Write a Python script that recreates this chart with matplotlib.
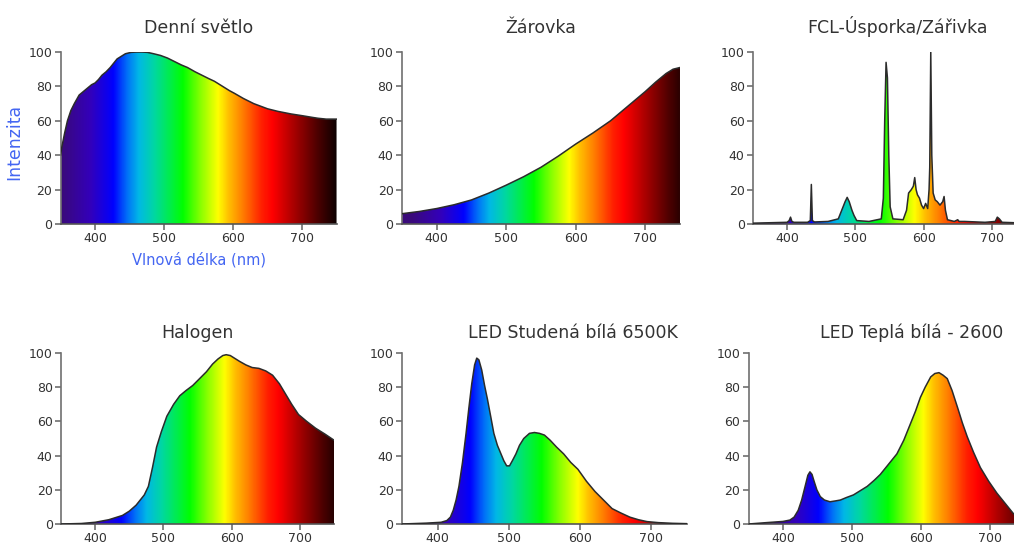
"""Spectra of common light sources, drawn as rainbow-filled curves."""
import numpy as np
import matplotlib
matplotlib.use("Agg")
import matplotlib.pyplot as plt
from matplotlib.colors import LinearSegmentedColormap
from matplotlib.patches import Polygon

plt.rcParams.update({
    "font.family": ["DejaVu Sans"],
    "font.size": 9,
    "axes.titlesize": 12.5,
    "axes.edgecolor": "#707070",
    "axes.linewidth": 1.2,
    "xtick.color": "#707070",
    "ytick.color": "#707070",
    "xtick.labelcolor": "#333333",
    "ytick.labelcolor": "#333333",
})

# --- data (wavelength nm, relative intensity) ---
wl_day = [350, 352, 356, 360, 365, 370, 377, 383, 389, 395, 400, 405, 410, 416,
          422, 428, 432, 438, 444, 452, 460, 468, 476, 485, 495, 505, 515, 525,
          534, 545, 555, 565, 573, 585, 595, 602, 615, 630, 650, 665, 684, 700,
          715, 723, 735, 750]
int_day = [40, 45, 53, 60, 66, 70, 75, 77, 79, 81, 82, 84, 86.5, 88.5,
           91, 94, 96, 97.5, 99, 99.8, 100, 100, 99.8, 99, 98, 96.5, 94.5, 92.5,
           91, 88.5, 86.5, 84.5, 83, 80, 77.5, 76, 73, 70, 67, 65.5, 64, 63,
           62, 61.5, 61, 61]

wl_inc = [350, 375, 400, 425, 450, 475, 500, 525, 550, 575, 600, 625, 650, 675,
          700, 715, 730, 740, 750]
int_inc = [6, 7.3, 9, 11.2, 14, 18, 22.6, 27.5, 33, 39.5, 46.5, 53, 60, 68.5,
           77, 82.5, 87.5, 90, 91]

wl_fcl = [350, 380, 400, 403, 405, 407, 410, 430, 434, 435.5, 437, 440, 460,
          475, 480, 485, 488, 491, 495, 498, 502, 520, 538, 541, 543, 545, 547,
          549, 551, 555, 570, 575, 578, 582, 585, 587, 589, 591, 594, 597, 600,
          603, 606, 608, 609, 610.5, 612, 614, 617, 620, 624, 628, 630, 632,
          635, 645, 650, 652, 660, 690, 705, 708, 711, 715, 730, 750]
int_fcl = [0.5, 0.8, 1, 2, 4, 1.5, 1, 1, 2, 23, 2, 1.2, 1.5,
           3, 8, 13, 15.5, 13, 8, 5, 2, 1.5, 3, 15, 60, 94, 85,
           40, 10, 3, 2.5, 8, 18, 20, 22, 27, 20, 17, 15, 11, 9,
           12, 9, 20, 33, 100, 40, 18, 14, 13, 11, 13, 16, 8,
           2.5, 1.5, 2.5, 1.5, 1.5, 1, 1.5, 4, 3, 1, 0.8, 0.5]

wl_hal = [350, 380, 400, 420, 440, 450, 460, 466, 472, 478, 484, 490, 497, 505,
          515, 524, 533, 543, 553, 563, 572, 580, 587, 592, 598, 604, 612, 621,
          630, 640, 650, 660, 670, 679, 688, 698, 710, 723, 737, 750]
int_hal = [0, 0.3, 1, 2.5, 5, 7.5, 11, 14, 17, 22, 33, 45, 54, 63,
           70, 75, 78, 81, 85, 89, 93.5, 96.5, 98.5, 99, 98.5, 97, 95, 93,
           91.5, 91, 89.5, 87, 82, 76, 70, 64, 60, 56, 52.5, 49]

wl_cold = [350, 384, 405, 413, 418, 422, 426, 430, 435, 440, 444, 448, 452, 455,
           458, 462, 466, 470, 475, 479, 484, 489, 493, 497, 501, 505, 510, 515,
           521, 529, 536, 543, 550, 558, 567, 577, 587, 597, 609, 621, 633, 645,
           657, 670, 682, 694, 710, 730, 750]
int_cold = [0, 0.5, 1, 2, 4, 8, 14, 22, 36, 53, 68, 82, 93, 97,
            96, 90, 81, 73, 62, 53, 46, 41, 37, 34, 34, 37, 41, 46,
            50, 53, 53.5, 53, 52, 49, 45, 41, 36, 32, 25, 19, 14, 9,
            6.5, 4, 2.5, 1.4, 0.8, 0.4, 0.2]

wl_warm = [350, 376, 400, 410, 416, 422, 427, 432, 436, 439, 442, 445, 449, 454,
           460, 468, 476, 483, 492, 502, 512, 522, 532, 541, 553, 565, 575, 585,
           592, 599, 606, 614, 620, 626, 632, 638, 645, 653, 660, 667, 676, 686,
           698, 710, 722, 734, 742, 750]
int_warm = [0, 0.8, 1.5, 2.3, 4, 8, 14, 22, 28.5, 30.5, 29, 25, 20, 16,
            14, 13, 13.5, 14, 15.5, 17, 19.5, 22, 25.5, 29, 35, 41, 49, 59,
            66, 74, 80, 86, 88, 88.5, 87, 85, 78, 68, 59, 51, 42, 33,
            25, 18, 12, 6, 3, 1]

titles = ["Denní světlo", "Žárovka", "FCL-Úsporka/Zářivka",
          "Halogen", "LED Studená bílá 6500K", "LED Teplá bílá - 2600"]
x_ticks = [400, 500, 600, 700]
y_ticks = [0, 20, 40, 60, 80, 100]

# rainbow used for the fill, wavelength -> colour
spectrum_nm = [350, 392, 425, 445, 462, 485, 510, 526, 550, 577, 592, 612,
               640, 656, 690, 720, 750]
spectrum_rgb = ["#3a0a7a", "#3300bb", "#0000ff", "#0070f8", "#00b8e6",
                "#00d8a0", "#00f040", "#00ff00", "#80ff00", "#ffff00",
                "#ffc000", "#ff8000", "#ff2000", "#ff0000", "#a00000",
                "#500000", "#0a0000"]


def spectrum_cmap():
    lo, hi = spectrum_nm[0], spectrum_nm[-1]
    stops = [((w - lo) / (hi - lo), c) for w, c in zip(spectrum_nm, spectrum_rgb)]
    return LinearSegmentedColormap.from_list("spectrum", stops)


CMAP = spectrum_cmap()


def plot_spectrum(ax, wl, inten, title, shift=0, title_x=0.5, title_pad=15):
    """Rainbow gradient clipped to the area under the curve.

    shift moves the rainbow to longer wavelengths (the source image is not
    consistent between panels).
    """
    grad = (np.linspace(350, 750, 800) - shift).reshape(1, -1)
    im = ax.imshow(grad, extent=[350, 750, 0, 100], aspect="auto",
                   origin="lower", cmap=CMAP, vmin=350, vmax=750, zorder=1)
    verts = [(wl[0], 0)] + list(zip(wl, inten)) + [(wl[-1], 0)]
    poly = Polygon(verts, closed=True, facecolor="none", edgecolor="none",
                   transform=ax.transData)
    ax.add_patch(poly)
    im.set_clip_path(poly)
    ax.plot(wl, inten, color="#2b2b2b", lw=1.1, zorder=3)

    ax.set_xlim(350, 750)
    ax.set_ylim(0, 100)
    ax.set_xticks(x_ticks)
    ax.set_yticks(y_ticks)
    ax.tick_params(length=4, width=1.2, pad=2)
    for side in ("top", "right"):
        ax.spines[side].set_visible(False)
    ax.spines["bottom"].set_color("#555555")
    ax.set_title(title, x=title_x, pad=title_pad, color="#333333")


fig = plt.figure(figsize=(10.14, 5.46), dpi=100)

rects = [
    [0.0597, 0.5897, 0.2722, 0.3150],
    [0.3964, 0.5897, 0.2742, 0.3150],
    [0.7426, 0.5897, 0.2692, 0.3150],
    [0.0602, 0.0403, 0.2692, 0.3132],
    [0.3964, 0.0403, 0.2810, 0.3132],
    [0.7382, 0.0403, 0.2722, 0.3132],
]
series = [(wl_day, int_day), (wl_inc, int_inc), (wl_fcl, int_fcl),
          (wl_hal, int_hal), (wl_cold, int_cold), (wl_warm, int_warm)]
shifts = [0, 13, 10, 13, 20, 25]
title_xs = [0.5, 0.5, 0.53, 0.5, 0.60, 0.59]

axes = []
for i, (rect, (wl, inten), title) in enumerate(zip(rects, series, titles)):
    ax = fig.add_axes(rect)
    plot_spectrum(ax, wl, inten, title, shift=shifts[i], title_x=title_xs[i],
                  title_pad=14 if i < 3 else 11)
    axes.append(ax)

label_blue = "#4466f2"
axes[0].set_ylabel("Intenzita", color=label_blue, fontsize=12.5)
axes[0].yaxis.set_label_coords(-0.135, 0.48)
axes[0].set_xlabel("Vlnová délka (nm)", color=label_blue, fontsize=10.5)
axes[0].xaxis.set_label_coords(0.5, -0.16)

fig.savefig("out.png", dpi=100)
